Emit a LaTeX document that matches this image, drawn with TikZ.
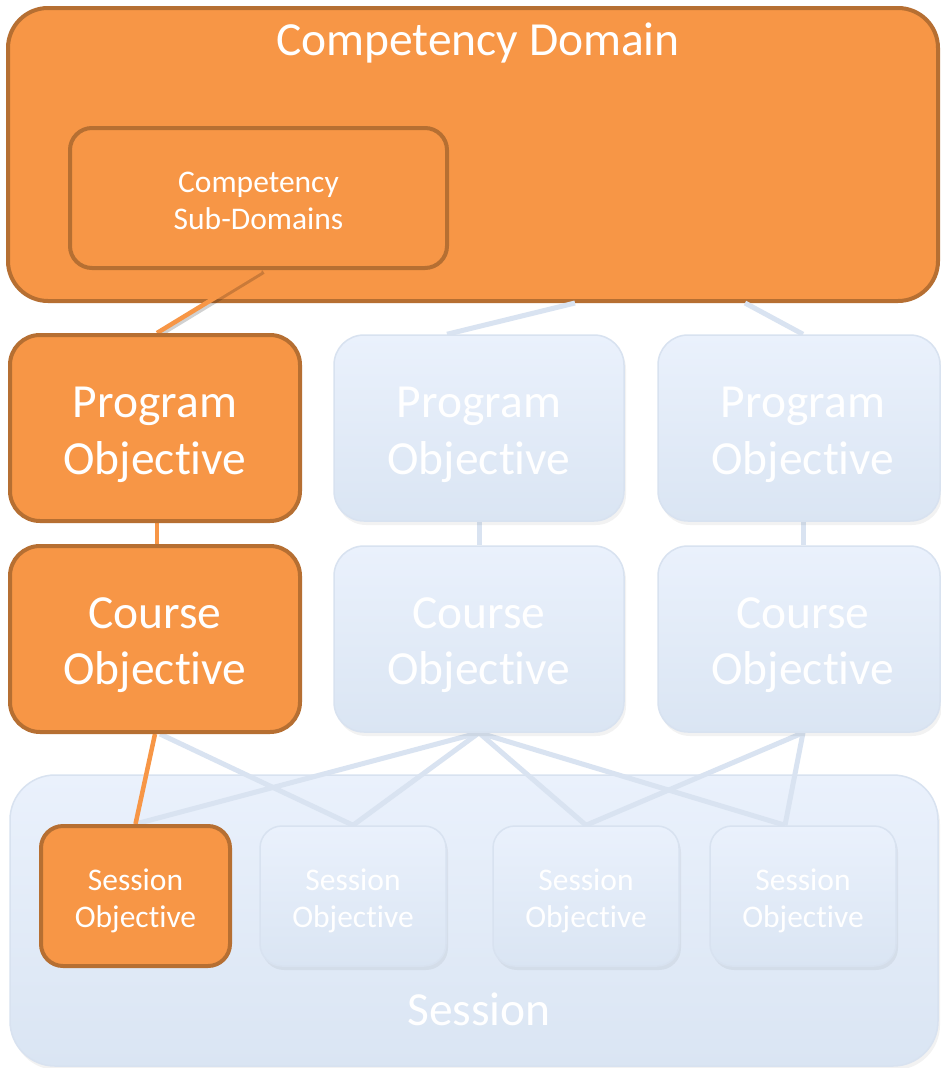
\documentclass[tikz,border=0pt]{standalone}
\usepackage{fontspec}
\setmainfont{Carlito}[RawFeature={-liga;-clig;-calt}]
\usetikzlibrary{shadows}
\definecolor{org}{HTML}{F79646}
\definecolor{orgb}{HTML}{B66F32}
\definecolor{bltop}{HTML}{EAF1FC}
\definecolor{blbot}{HTML}{DAE5F3}
\definecolor{blb}{HTML}{D8E2F0}
\definecolor{blline}{HTML}{D9E3F1}
\pgfdeclarelayer{bgbox}
\pgfdeclarelayer{lines}
\pgfsetlayers{bgbox,lines,main}
\begin{document}
\begin{tikzpicture}[x=1pt,y=-1pt,
 obox/.style={draw=orgb, line width=4pt, fill=org, rounded corners=#1, inner sep=0pt},
 bbox/.style={draw=blb, line width=1.5pt, top color=bltop, bottom color=blbot, rounded corners=#1, inner sep=0pt, drop shadow={shadow xshift=2pt, shadow yshift=-4pt, opacity=0.05, fill=black}},
 txt/.style={text=white, align=center, inner sep=0pt},
 bigf/.style={txt, font=\fontsize{47.5}{56.5}\selectfont},
 smf/.style={txt, font=\fontsize{31.5}{37}\selectfont},
 bline/.style={draw=blline, line width=5pt},
 oline/.style={draw=org, line width=4.5pt},
 oshadow/.style={draw=black, draw opacity=0.18, line width=4pt},
]
\begin{pgfonlayer}{bgbox}
\useasboundingbox[fill=white] (0,0) rectangle (940,1068);
\node[obox=40pt, minimum width=930pt, minimum height=293pt] (dom) at (473,154.5) {};
\node[bbox=45pt, minimum width=928pt, minimum height=291pt] (sess) at (474,920.5) {};
\end{pgfonlayer}

\node[bigf] (domt) at (478,43) {Competency Domain};
\node[obox=22pt, minimum width=377pt, minimum height=140pt] (sub) at (258.5,198) {};
\node[smf] (subt) at ([yshift=-3pt]sub.center) {Competency\\Sub-Domains};

\node[obox=30pt, minimum width=290pt, minimum height=186pt] (p1) at (155,428) {};
\node[bbox=30pt, minimum width=290pt, minimum height=186pt] (p2) at (479,428) {};
\node[bbox=30pt, minimum width=282pt, minimum height=186pt] (p3) at (799,428) {};
\node[bigf] (p1t) at ([yshift=-7pt]p1.center) {Program\\Objective};
\node[bigf] (p2t) at ([yshift=-7pt]p2.center) {Program\\Objective};
\node[bigf] (p3t) at ([xshift=4pt,yshift=-7pt]p3.center) {Program\\Objective};

\node[obox=30pt, minimum width=290pt, minimum height=186pt] (c1) at (155,639) {};
\node[bbox=30pt, minimum width=290pt, minimum height=186pt] (c2) at (479,639) {};
\node[bbox=30pt, minimum width=282pt, minimum height=186pt] (c3) at (799,639) {};
\node[bigf] (c1t) at ([yshift=-6pt]c1.center) {Course\\Objective};
\node[bigf] (c2t) at ([yshift=-6pt]c2.center) {Course\\Objective};
\node[bigf] (c3t) at ([xshift=4pt,yshift=-6pt]c3.center) {Course\\Objective};

\node[obox=22pt, minimum width=189pt, minimum height=140pt] (s1) at (135.5,896) {};
\node[bbox=22pt, minimum width=186pt, minimum height=140pt] (s2) at (353,896) {};
\node[bbox=22pt, minimum width=186pt, minimum height=140pt] (s3) at (586,896) {};
\node[bbox=22pt, minimum width=186pt, minimum height=140pt] (s4) at (803,896) {};
\node[smf] (s1t) at ([yshift=-5pt]s1.center) {Session\\Objective};
\node[smf] (s2t) at ([yshift=-5pt]s2.center) {Session\\Objective};
\node[smf] (s3t) at ([yshift=-5pt]s3.center) {Session\\Objective};
\node[smf] (s4t) at ([yshift=-5pt]s4.center) {Session\\Objective};

\node[bigf] (sesst) at (479,1009) {Session};

\begin{pgfonlayer}{lines}
\draw[bline] ([xshift=102pt]dom.south) -- ([xshift=-32pt]p2.north);
\draw[bline] ([xshift=272pt]dom.south) -- ([xshift=4pt]p3.north);
\draw[bline] (p2.south) -- (c2.north);
\draw[bline] ([xshift=4pt]p3.south) -- ([xshift=4pt]c3.north);
\draw[bline] ([xshift=5pt]c1.south) -- (s2.north);
\draw[bline] (c2.south) -- (s1.north);
\draw[bline] (c2.south) -- (s2.north);
\draw[bline] (c2.south) -- (s3.north);
\draw[bline] (c2.south) -- ([xshift=-18pt]s4.north);
\draw[bline] ([xshift=4pt]c3.south) -- (s3.north);
\draw[bline] ([xshift=4pt]c3.south) -- ([xshift=-18pt]s4.north);
\draw[oshadow] ([xshift=5pt,yshift=-2pt]sub.south) -- ([xshift=5pt,yshift=-2pt]p1.north);
\draw[oline] ([xshift=2pt]sub.south) -- ([xshift=2pt]p1.north);
\draw[oline] ([xshift=2pt]p1.south) -- ([xshift=2pt]c1.north);
\draw[oline] (c1.south) -- (s1.north);
\end{pgfonlayer}
\end{tikzpicture}
\end{document}
